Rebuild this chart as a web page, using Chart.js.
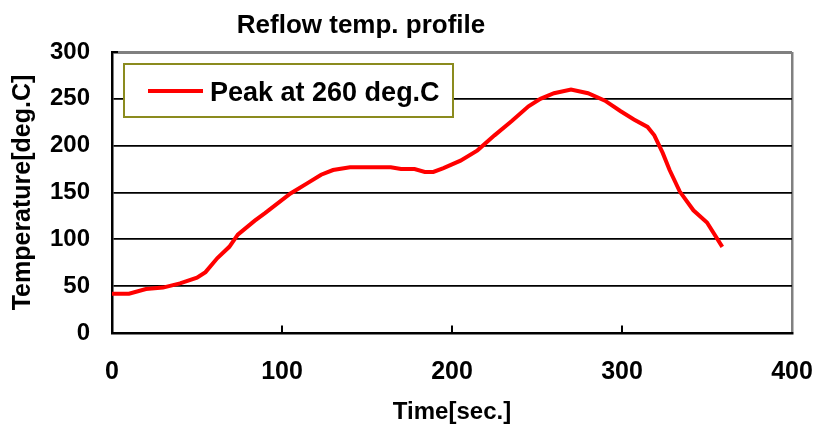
<!DOCTYPE html>
<html>
<head>
<meta charset="utf-8">
<script src="https://cdn.jsdelivr.net/npm/chart.js@4/dist/chart.umd.min.js"></script>
<style>
  html, body { margin: 0; padding: 0; background: #ffffff; }
  #wrap { width: 814px; height: 430px; position: relative; }
</style>
</head>
<body>
<div id="wrap"><canvas id="c"></canvas></div>
<script>
const chartTitle = "Reflow temp. profile";
const seriesLabel = "Peak at 260 deg.C";
const xAxisTitle = "Time[sec.]";
const yAxisTitle = "Temperature[deg.C]";

const times = [0, 10, 20, 30, 40, 50, 55, 62, 69, 74, 84, 90, 105, 115, 123, 130, 140, 160, 164, 170, 178, 184, 189, 195, 205, 215, 225, 235, 245, 252, 260, 270, 280, 290, 299, 307, 315, 319, 324, 328, 334, 342, 350, 359];
const temps = [42, 42, 47, 48.5, 53, 59, 65, 80, 92, 105, 120, 128, 149, 160, 169, 174, 177, 177, 177, 175, 175, 172, 172, 176, 184, 195, 211, 226, 242, 250, 256, 260, 256, 248, 237, 228, 220, 211, 192, 174, 151, 131, 118, 92];

const xTicks = [0, 100, 200, 300, 400];
const yTicks = [0, 50, 100, 150, 200, 250, 300];

const FONT = "'Liberation Sans', Arial, sans-serif";

const points = times.map((t, i) => ({ x: t, y: temps[i] }));

const decor = {
  id: 'decor',
  afterDraw(chart) {
    const ctx = chart.ctx;
    const ca = chart.chartArea;
    const xs = chart.scales.x, ys = chart.scales.y;
    ctx.save();
    // inner tick marks on x axis
    ctx.strokeStyle = '#000000';
    ctx.lineWidth = 2;
    [100, 200, 300].forEach(v => {
      const px = xs.getPixelForValue(v);
      ctx.beginPath();
      ctx.moveTo(px, ca.bottom);
      ctx.lineTo(px, ca.bottom - 7.5);
      ctx.stroke();
    });
    // inner tick at top of y axis
    ctx.beginPath();
    const py = ys.getPixelForValue(300);
    ctx.moveTo(ca.left, py);
    ctx.lineTo(ca.left + 6, py);
    ctx.stroke();

    // legend
    const lx = ca.left + 12, ly = ca.top + 12, lw = 329, lh = 53;
    ctx.fillStyle = '#ffffff';
    ctx.fillRect(lx, ly, lw, lh);
    ctx.strokeStyle = '#8B8B1E';
    ctx.lineWidth = 2;
    ctx.strokeRect(lx, ly, lw, lh);
    const ds = chart.data.datasets[0];
    ctx.strokeStyle = ds.borderColor;
    ctx.lineWidth = 4;
    ctx.beginPath();
    ctx.moveTo(lx + 24, ly + 27);
    ctx.lineTo(lx + 79, ly + 27);
    ctx.stroke();
    ctx.fillStyle = '#000000';
    ctx.font = "bold 27px " + FONT;
    ctx.textBaseline = 'alphabetic';
    ctx.textAlign = 'left';
    ctx.fillText(ds.label, lx + 86, ly + 37);

    // chart title
    ctx.font = "bold 26px " + FONT;
    ctx.textAlign = 'center';
    ctx.fillText(chartTitle, 361, 33);
    ctx.restore();
  }
};

new Chart(document.getElementById('c'), {
  type: 'line',
  data: {
    datasets: [{
      label: seriesLabel,
      data: points,
      borderColor: '#FF0000',
      backgroundColor: '#FF0000',
      borderWidth: 4,
      pointRadius: 0,
      tension: 0,
      fill: false
    }]
  },
  options: {
    responsive: true,
    maintainAspectRatio: false,
    animation: false,
    devicePixelRatio: 1,
    layout: { padding: { top: 52, right: 22, bottom: 0, left: 0 } },
    plugins: {
      legend: { display: false },
      title: { display: false },
      tooltip: { enabled: false }
    },
    scales: {
      x: {
        type: 'linear',
        min: 0, max: 400,
        afterBuildTicks: s => { s.ticks = xTicks.map(v => ({ value: v })); },
        afterFit: s => { s.height = 97; s.paddingRight = 0; s.paddingLeft = 0; },
        ticks: {
          color: '#000000',
          padding: 24,
          font: { family: FONT, size: 25, weight: 'bold' }
        },
        grid: {
          drawTicks: false,
          lineWidth: 2.5,
          color: c => (c.tick && c.tick.value === 400) ? '#808080' : 'rgba(0,0,0,0)'
        },
        border: { color: '#000000', width: 2.5 },
        title: {
          display: true,
          text: xAxisTitle,
          color: '#000000',
          padding: { top: 0, bottom: 3 },
          font: { family: FONT, size: 24, weight: 'bold' }
        }
      },
      y: {
        type: 'linear',
        min: 0, max: 300,
        afterBuildTicks: s => { s.ticks = yTicks.map(v => ({ value: v })); },
        afterFit: s => { s.width = 112; s.paddingTop = 0; s.paddingBottom = 0; },
        ticks: {
          color: '#000000',
          padding: 22,
          font: { family: FONT, size: 24, weight: 'bold' }
        },
        grid: {
          drawTicks: false,
          lineWidth: c => (c.tick && c.tick.value === 300) ? 3 : 1.8,
          color: c => (c.tick && c.tick.value === 300) ? '#808080' : '#000000'
        },
        border: { color: '#000000', width: 2.5 },
        title: {
          display: true,
          text: yAxisTitle,
          color: '#000000',
          padding: { top: 8, bottom: 0 },
          font: { family: FONT, size: 25, weight: 'bold' }
        }
      }
    }
  },
  plugins: [decor]
});
</script>
</body>
</html>
